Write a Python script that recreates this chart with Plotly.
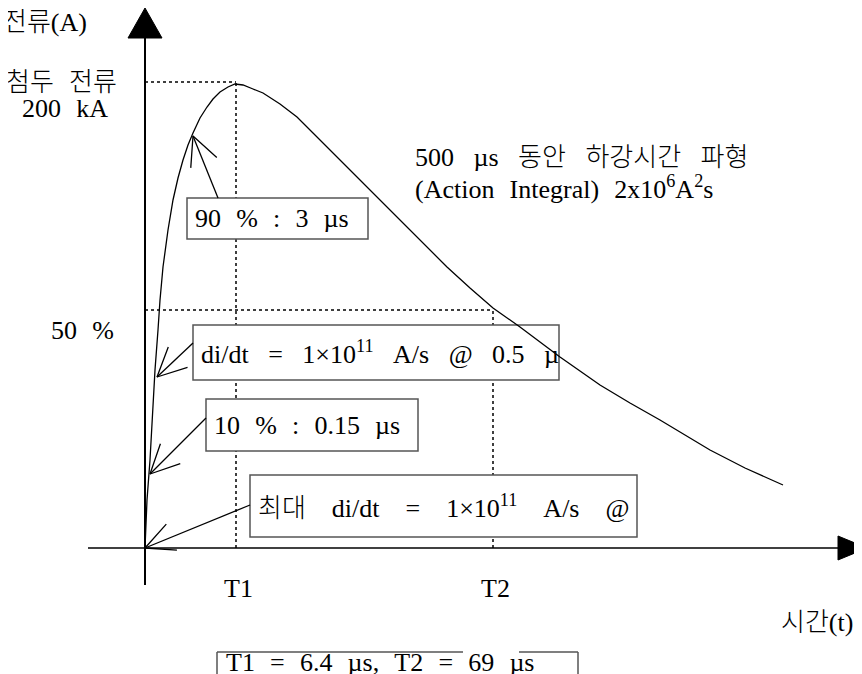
import math
import plotly.graph_objects as go

# ---------------------------------------------------------------------------
# lightning current waveform (schematic units: t along time axis, i above it)
wave_t = [0, 2, 5, 7, 10, 13, 15, 18, 23, 28, 33, 38, 43, 48, 55, 62, 68, 75, 83, 90,
          98, 108, 118, 135, 152, 168, 185, 202, 218, 235, 252, 268, 285, 302, 325,
          348, 375, 415, 455, 485, 515, 540, 565, 600, 638]
wave_i = [0, 48, 88, 128, 178, 218, 248, 281, 318, 348, 370, 388, 403, 415, 430, 441,
          449, 456, 461, 464, 463, 459, 455, 444, 431, 415, 398, 382, 365, 348, 331,
          315, 298, 281, 260, 240, 221, 191, 163, 145, 128, 113, 98, 80, 63]

# reference levels / times
t_marks = [91, 348]            # T1, T2
t_labels = ["T1", "T2"]
peak_level = 466
half_level = 238

# callout boxes: text, box (t0, t1, i0, i1), arrow tail, arrow tip
box_texts = ["90 % : 3 µs",
             "di/dt = 1×10<sup>11</sup> A/s @ 0.5 µ",
             "10 % : 0.15 µs",
             "최대 di/dt = 1×10<sup>11</sup> A/s @"]
box_t0 = [42, 48, 61, 105]
box_t1 = [223, 414, 273, 492]
box_i0 = [309, 168, 97, 11]
box_i1 = [350, 223, 149, 73]
arrow_tail = [(73, 350), (48, 205), (61, 130), (105, 43)]
arrow_tip = [(48, 412), (12, 171), (5, 74), (0, 0)]

FONT = "Liberation Serif, 'Noto Sans CJK KR', serif"
SIZE = 26
GAP = "\u00a0\u00a0\u200a"
box_gaps = [GAP, "\u00a0\u00a0\u00a0", GAP, "\u00a0\u00a0\u00a0\u00a0"]


def spaced(s, gap=GAP):
    return s.replace(" ", gap)


def txt_font():
    return dict(family=FONT, size=SIZE, color="black", weight=300)


def arms(tail, tip, length=32, spread=26):
    ang = math.atan2(tail[1] - tip[1], tail[0] - tip[0])
    out = []
    for s in (-1, 1):
        a = ang + s * math.radians(spread)
        out.append((tip[0] + length * math.cos(a), tip[1] + length * math.sin(a)))
    return out
# ---------------------------------------------------------------------------

fig = go.Figure()

# dotted guide lines
dot = dict(color="black", width=1.5, dash="dot")
fig.add_shape(type="line", x0=0, x1=t_marks[0], y0=peak_level, y1=peak_level, line=dot, layer="below")
fig.add_shape(type="line", x0=t_marks[0], x1=t_marks[0], y0=0, y1=peak_level, line=dot, layer="below")
fig.add_shape(type="line", x0=0, x1=t_marks[1], y0=half_level, y1=half_level, line=dot, layer="below")
fig.add_shape(type="line", x0=t_marks[1], x1=t_marks[1], y0=0, y1=half_level, line=dot, layer="below")

# callout boxes (white fill hides the guides)
for k in range(len(box_texts)):
    fig.add_shape(type="rect", x0=box_t0[k], x1=box_t1[k], y0=box_i0[k], y1=box_i1[k],
                  line=dict(color="#555555", width=1.5), fillcolor="white", layer="below")
    fig.add_annotation(x=box_t0[k] + 6, y=(box_i0[k] + box_i1[k]) / 2,
                       text=spaced(box_texts[k], box_gaps[k]),
                       xanchor="left", yanchor="middle", showarrow=False, font=txt_font())

# bottom box (partly cut off, top border interrupted)
gray = dict(color="#555555", width=1.5)
fig.add_shape(type="line", x0=72, x1=72, y0=-104, y1=-140, line=gray)
fig.add_shape(type="line", x0=433, x1=433, y0=-104, y1=-140, line=gray)
fig.add_shape(type="line", x0=72, x1=318, y0=-104, y1=-104, line=gray)
fig.add_shape(type="line", x0=374, x1=433, y0=-104, y1=-104, line=gray)
fig.add_annotation(x=79, y=-114, text=spaced("T1 = 6.4 µs, T2 = 69 µs"), xanchor="left",
                   showarrow=False, font=txt_font())

# waveform
fig.add_trace(go.Scatter(x=wave_t, y=wave_i, mode="lines",
                         line=dict(color="black", width=1.3), hoverinfo="skip"))

# callout arrows (open heads)
for tail, tip in zip(arrow_tail, arrow_tip):
    a1, a2 = arms(tail, tip)
    fig.add_trace(go.Scatter(x=[tail[0], tip[0], None, a1[0], tip[0], a2[0]],
                             y=[tail[1], tip[1], None, a1[1], tip[1], a2[1]],
                             mode="lines", line=dict(color="black", width=1.3), hoverinfo="skip"))

# axes with filled arrow heads
fig.add_trace(go.Scatter(x=[-57, 695], y=[0, 0], mode="lines",
                         line=dict(color="black", width=1.6), hoverinfo="skip"))
fig.add_trace(go.Scatter(x=[0, 0], y=[-37, 512], mode="lines",
                         line=dict(color="black", width=2), hoverinfo="skip"))
fig.add_trace(go.Scatter(x=[693, 722, 693, 693], y=[-12, 0, 12, -12], mode="lines", fill="toself",
                         fillcolor="black", line=dict(color="black", width=1), hoverinfo="skip"))
fig.add_trace(go.Scatter(x=[-17, 0, 17, -17], y=[510, 540, 510, 510], mode="lines", fill="toself",
                         fillcolor="black", line=dict(color="black", width=1), hoverinfo="skip"))

# free labels
labels = [
    ("전류(A)", -100, 526),
    ("첨두 전류", -84, 466),
    ("200 kA", -80, 440),
    ("50 %", -63, 218),
    ("시간(t)", 672, -74),
]
for txt, x, y in labels:
    fig.add_annotation(x=x, y=y, text=spaced(txt), showarrow=False, font=txt_font())
for t, lab in zip(t_marks, t_labels):
    fig.add_annotation(x=t + 2, y=-40, text=lab, showarrow=False, font=txt_font())

fig.add_annotation(x=268, y=391, text=spaced("500 µs 동안 하강시간 파형", "\u00a0\u00a0\u00a0"),
                   xanchor="left", showarrow=False, font=txt_font())
fig.add_annotation(x=268, y=361, text=spaced("(Action Integral) 2x10<sup>6</sup>A<sup>2</sup>s"),
                   xanchor="left", showarrow=False, font=txt_font())

fig.update_layout(
    width=862, height=674, margin=dict(l=0, r=0, t=0, b=0),
    plot_bgcolor="white", paper_bgcolor="white", showlegend=False,
    xaxis=dict(range=[-137, 725], visible=False, fixedrange=True),
    yaxis=dict(range=[-134, 540], visible=False, fixedrange=True),
)

fig.write_html("out.html", config={"displayModeBar": False})
